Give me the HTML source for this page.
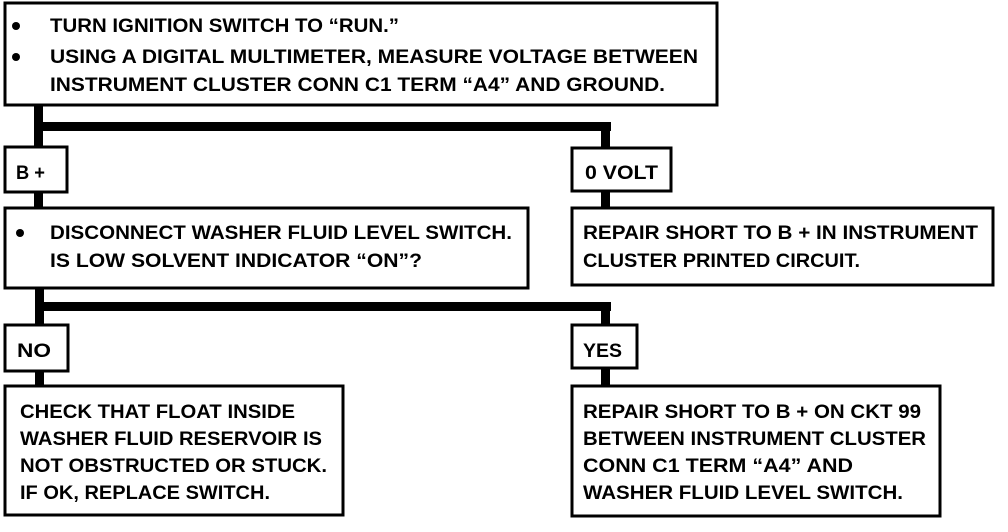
<!DOCTYPE html>
<html><head><meta charset="utf-8"><style>
html,body{margin:0;padding:0;background:#fff;width:1008px;height:532px;overflow:hidden}
svg text{font-family:"Liberation Sans",sans-serif;font-weight:bold;font-size:19px;fill:#000}
</style></head><body>
<svg width="1008" height="532" viewBox="0 0 1008 532" xmlns="http://www.w3.org/2000/svg">
<g fill="none" stroke="#000" stroke-width="3">
<rect x="5" y="3" width="712" height="102"/>
<rect x="5" y="147" width="62" height="45"/>
<rect x="572" y="148" width="99" height="43"/>
<rect x="5" y="208" width="523" height="80"/>
<rect x="572" y="208" width="421" height="77"/>
<rect x="5" y="325" width="63" height="46"/>
<rect x="572" y="325" width="65" height="43"/>
<rect x="5" y="386" width="338" height="129"/>
<rect x="572" y="386" width="368" height="130"/>
</g>
<g fill="#000">
<rect x="34" y="105" width="9" height="42"/>
<rect x="34" y="122" width="577" height="9"/>
<rect x="601" y="122" width="9" height="26"/>
<rect x="34" y="192" width="9" height="16"/>
<rect x="601" y="191" width="9" height="17"/>
<rect x="35" y="288" width="9" height="37"/>
<rect x="35" y="302" width="576" height="9"/>
<rect x="601" y="302" width="9" height="23"/>
<rect x="35" y="371" width="9" height="15"/>
<rect x="601" y="368" width="9" height="18"/>
<circle cx="16" cy="26" r="4"/>
<circle cx="16" cy="57" r="4"/>
<circle cx="20" cy="233" r="4"/>
</g>
<text x="50" y="32" textLength="349" lengthAdjust="spacingAndGlyphs">TURN IGNITION SWITCH TO “RUN.”</text>
<text x="50" y="63" textLength="648" lengthAdjust="spacingAndGlyphs">USING A DIGITAL MULTIMETER, MEASURE VOLTAGE BETWEEN</text>
<text x="50" y="91" textLength="615" lengthAdjust="spacingAndGlyphs">INSTRUMENT CLUSTER CONN C1 TERM “A4” AND GROUND.</text>
<text x="16" y="179" textLength="29" lengthAdjust="spacingAndGlyphs">B +</text>
<text x="585" y="179" textLength="73" lengthAdjust="spacingAndGlyphs">0 VOLT</text>
<text x="50" y="239" textLength="462" lengthAdjust="spacingAndGlyphs">DISCONNECT WASHER FLUID LEVEL SWITCH.</text>
<text x="50" y="267" textLength="372" lengthAdjust="spacingAndGlyphs">IS LOW SOLVENT INDICATOR “ON”?</text>
<text x="583" y="239" textLength="395" lengthAdjust="spacingAndGlyphs">REPAIR SHORT TO B +  IN INSTRUMENT</text>
<text x="583" y="267" textLength="277" lengthAdjust="spacingAndGlyphs">CLUSTER PRINTED CIRCUIT.</text>
<text x="17" y="357" textLength="34" lengthAdjust="spacingAndGlyphs">NO</text>
<text x="583" y="357" textLength="39" lengthAdjust="spacingAndGlyphs">YES</text>
<text x="20" y="418" textLength="275" lengthAdjust="spacingAndGlyphs">CHECK THAT FLOAT INSIDE</text>
<text x="20" y="445" textLength="302" lengthAdjust="spacingAndGlyphs">WASHER FLUID RESERVOIR IS</text>
<text x="20" y="472" textLength="307" lengthAdjust="spacingAndGlyphs">NOT OBSTRUCTED OR STUCK.</text>
<text x="20" y="499" textLength="250" lengthAdjust="spacingAndGlyphs">IF OK, REPLACE SWITCH.</text>
<text x="583" y="418" textLength="338" lengthAdjust="spacingAndGlyphs">REPAIR SHORT TO B +  ON CKT 99</text>
<text x="583" y="445" textLength="343" lengthAdjust="spacingAndGlyphs">BETWEEN INSTRUMENT CLUSTER</text>
<text x="583" y="472" textLength="270" lengthAdjust="spacingAndGlyphs">CONN C1 TERM “A4” AND</text>
<text x="583" y="499" textLength="320" lengthAdjust="spacingAndGlyphs">WASHER FLUID LEVEL SWITCH.</text>
</svg>
</body></html>
